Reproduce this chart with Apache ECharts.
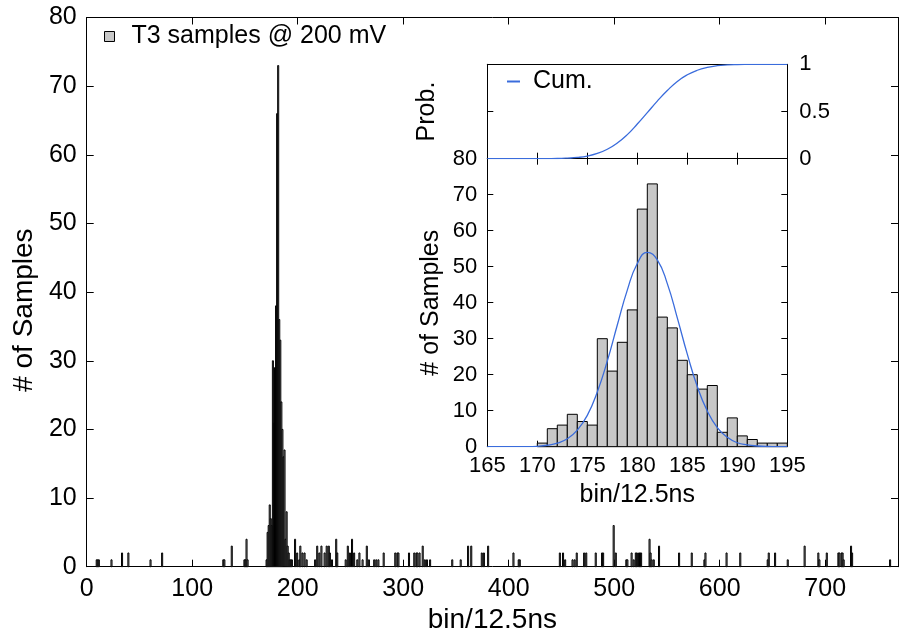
<!DOCTYPE html>
<html>
<head>
<meta charset="utf-8">
<script src="https://cdn.jsdelivr.net/npm/echarts@6/dist/echarts.min.js"></script>
<style>
  html, body { margin: 0; padding: 0; background: #fff; }
  #chart { width: 903px; height: 633px; }
</style>
</head>
<body>
<div id="chart"></div>
<script>
// main histogram: bins outside the peak (bin, count)
const sideBins = [9, 10, 11, 23, 33, 39, 60, 71, 129, 130, 137, 149, 150, 151, 152,
  197, 199, 201, 202, 204, 206, 208, 216, 218, 220, 222, 225, 227, 229, 230, 232, 236, 237,
  245, 247, 249, 251, 253, 256, 258, 261, 265, 267, 272, 274, 276, 281, 292, 294, 295,
  305, 310, 312, 313, 315, 318, 320, 322, 325, 346, 354, 361, 364, 374, 376, 380,
  404, 409, 410, 448, 451, 453, 460, 462, 464, 471, 473, 482, 488, 489, 499, 501,
  511, 512, 516, 518, 520, 521, 523, 524, 525, 533, 534, 535, 537, 542,
  561, 573, 585, 586, 606, 619, 645, 646, 652, 664, 680, 693, 694, 701,
  712, 713, 715, 716, 717, 724, 725, 761];
const sideCounts = [1, 1, 1, 1, 2, 2, 1, 2, 1, 1, 3, 1, 1, 4, 1,
  4, 2, 1, 3, 2, 2, 1, 1, 3, 2, 3, 2, 3, 3, 2, 1, 4, 2,
  1, 3, 2, 4, 2, 1, 2, 1, 3, 1, 1, 1, 1, 2, 2, 2, 2,
  2, 2, 2, 2, 2, 3, 1, 1, 1, 1, 1, 3, 3, 2, 2, 3,
  2, 1, 1, 2, 2, 1, 1, 1, 2, 2, 2, 2, 2, 2, 6, 2,
  1, 1, 2, 1, 2, 2, 2, 2, 2, 4, 2, 1, 1, 3,
  2, 2, 1, 2, 2, 2, 1, 2, 2, 1, 3, 2, 1, 2,
  2, 2, 2, 2, 1, 3, 2, 1];

// peak region (same bins shown in the inset)
const peakBins = [170, 171, 172, 173, 174, 175, 176, 177, 178, 179, 180, 181, 182,
  183, 184, 185, 186, 187, 188, 189, 190, 191, 192, 193, 194];
const peakCounts = [1, 5, 6, 9, 7, 6, 30, 21, 29, 38, 66, 73, 36,
  33, 24, 20, 16, 17, 4, 8, 3, 2, 1, 1, 1];

// fitted curve and cumulative curve
const fitX = [165, 166, 167, 168, 169, 170, 171, 172, 173, 174, 175, 176, 177, 178, 179, 180,
  181, 182, 183, 184, 185, 186, 187, 188, 189, 190, 191, 192, 193, 194, 195];
const fitY = [0, 0, 0, 0, 0, 0.1, 0.4, 1.0, 2.2, 4.6, 8.7, 15.2, 23.8, 33.8, 43.5, 50.9,
  54.0, 51.9, 45.3, 35.8, 25.7, 16.7, 9.9, 5.3, 2.6, 1.1, 0.5, 0.2, 0.05, 0, 0];
const cumY = [0, 0, 0, 0, 0, 0, 0.001, 0.002, 0.006, 0.013, 0.028, 0.056, 0.100, 0.166, 0.255, 0.367,
  0.488, 0.610, 0.722, 0.819, 0.889, 0.937, 0.967, 0.985, 0.993, 0.997, 0.999, 1, 1, 1, 1];

const mainTicks = [0, 100, 200, 300, 400, 500, 600, 700];
const insetTicks = [165, 170, 175, 180, 185, 190, 195];

const font = "'Liberation Sans', Arial, sans-serif";
const blue = '#3a6cdc';

const mainData = sideBins.map((b, i) => [b, sideCounts[i]])
  .concat(peakBins.map((b, i) => [b, peakCounts[i]]));
const insetData = peakBins.map((b, i) => [b, peakCounts[i]]);

function renderBin(params, api) {
  const x0 = api.value(0);
  const c = api.value(1);
  const p0 = api.coord([x0, 0]);
  const p1 = api.coord([x0 + 1, c]);
  return {
    type: 'rect',
    shape: { x: p0[0], y: p1[1], width: p1[0] - p0[0], height: p0[1] - p1[1] },
    style: { fill: '#c8c8c8', stroke: '#000', lineWidth: 1 }
  };
}

function frameAxis(extra) {
  return Object.assign({
    type: 'value',
    axisLine: { show: true, onZero: false, lineStyle: { color: '#000', width: 1 } },
    axisTick: { show: true, inside: true, length: 7, lineStyle: { color: '#000' } },
    axisLabel: { show: false },
    splitLine: { show: false }
  }, extra);
}

const labelStyle = (size) => ({ color: '#000', fontFamily: font, fontSize: size });
const insetTick = { show: true, inside: true, length: 6, lineStyle: { color: '#000' } };

const chart = echarts.init(document.getElementById('chart'));

chart.setOption({
  backgroundColor: '#fff',
  animation: false,
  textStyle: { fontFamily: font },
  legend: [
    {
      left: 104, top: 24, padding: 0,
      itemWidth: 10, itemHeight: 10,
      selectedMode: false,
      data: [{ name: 'T3 samples @ 200 mV', icon: 'rect',
        itemStyle: { color: '#c8c8c8', borderColor: '#000', borderWidth: 1 } }],
      textStyle: { color: '#000', fontFamily: font, fontSize: 25, padding: [0, 0, 0, 12] }
    },
    {
      left: 506, top: 69, padding: 0,
      itemWidth: 13, itemHeight: 12,
      selectedMode: false,
      itemStyle: { opacity: 0 },
      data: ['Cum.'],
      textStyle: { color: '#000', fontFamily: font, fontSize: 25, padding: [0, 0, 0, 8] }
    }
  ],
  grid: [
    { left: 86.7, top: 17.5, width: 811.3, height: 549.2,
      containLabel: false, outerBoundsMode: 'none' },
    { left: 487.3, top: 158.7, width: 300, height: 288, show: true, backgroundColor: '#fff', borderWidth: 0,
      containLabel: false, outerBoundsMode: 'none' },
    { left: 487.3, top: 64.3, width: 300, height: 94.4, show: true, backgroundColor: '#fff', borderWidth: 0,
      containLabel: false, outerBoundsMode: 'none' }
  ],
  xAxis: [
    frameAxis({
      gridIndex: 0, position: 'bottom', min: 0, max: 769, interval: 100,
      axisLabel: Object.assign({ show: true, margin: 10, showMaxLabel: false,
        formatter: v => mainTicks.indexOf(v) >= 0 ? String(v) : '' }, labelStyle(25)),
      name: 'bin/12.5ns', nameLocation: 'middle', nameGap: 37,
      nameTextStyle: labelStyle(28)
    }),
    frameAxis({ gridIndex: 0, position: 'top', min: 0, max: 769, interval: 100 }),
    frameAxis({
      gridIndex: 1, position: 'bottom', min: 165, max: 195, interval: 5,
      axisTick: insetTick,
      axisLabel: Object.assign({ show: true, margin: 8,
        formatter: v => insetTicks.indexOf(v) >= 0 ? String(v) : '' }, labelStyle(22)),
      name: 'bin/12.5ns', nameLocation: 'middle', nameGap: 36,
      nameTextStyle: labelStyle(25)
    }),
    frameAxis({ gridIndex: 1, position: 'top', min: 165, max: 195, interval: 5, axisTick: insetTick }),
    frameAxis({ gridIndex: 2, position: 'bottom', min: 165, max: 195, interval: 5, axisTick: insetTick }),
    frameAxis({ gridIndex: 2, position: 'top', min: 165, max: 195, interval: 5,
      axisTick: { show: false } })
  ],
  yAxis: [
    frameAxis({
      gridIndex: 0, position: 'left', min: 0, max: 80, interval: 10,
      axisLabel: Object.assign({ show: true, margin: 10 }, labelStyle(25)),
      name: '# of Samples', nameLocation: 'middle', nameGap: 44,
      nameTextStyle: Object.assign({ padding: [0, 36, 0, 0] }, labelStyle(28))
    }),
    frameAxis({ gridIndex: 0, position: 'right', min: 0, max: 80, interval: 10 }),
    frameAxis({
      gridIndex: 1, position: 'left', min: 0, max: 80, interval: 10,
      axisTick: insetTick,
      axisLabel: Object.assign({ show: true, margin: 10 }, labelStyle(22)),
      name: '# of Samples', nameLocation: 'middle', nameGap: 44,
      nameTextStyle: labelStyle(25)
    }),
    frameAxis({ gridIndex: 1, position: 'right', min: 0, max: 80, interval: 10, axisTick: insetTick }),
    frameAxis({
      gridIndex: 2, position: 'left', min: 0, max: 1, interval: 0.5,
      axisTick: insetTick,
      name: 'Prob.', nameLocation: 'middle', nameGap: 48,
      nameTextStyle: labelStyle(25)
    }),
    frameAxis({
      gridIndex: 2, position: 'right', min: 0, max: 1, interval: 0.5,
      axisTick: insetTick,
      axisLabel: Object.assign({ show: true, margin: 12 }, labelStyle(22))
    })
  ],
  series: [
    {
      name: 'T3 samples @ 200 mV', type: 'custom',
      xAxisIndex: 0, yAxisIndex: 0,
      itemStyle: { color: '#c8c8c8', borderColor: '#000', borderWidth: 1 },
      encode: { x: 0, y: 1 },
      renderItem: renderBin,
      data: mainData
    },
    {
      name: 'inset', type: 'custom',
      xAxisIndex: 2, yAxisIndex: 2,
      itemStyle: { color: '#c8c8c8', borderColor: '#000', borderWidth: 1 },
      encode: { x: 0, y: 1 },
      renderItem: renderBin,
      data: insetData
    },
    {
      name: 'fit', type: 'line',
      xAxisIndex: 2, yAxisIndex: 2,
      smooth: true, symbol: 'none',
      lineStyle: { color: blue, width: 1.3 },
      data: fitX.map((x, i) => [x, fitY[i]])
    },
    {
      name: 'Cum.', type: 'line',
      xAxisIndex: 4, yAxisIndex: 4,
      smooth: true, symbol: 'none',
      itemStyle: { color: blue },
      lineStyle: { color: blue, width: 1.3 },
      data: fitX.map((x, i) => [x, cumY[i]])
    }
  ]
});
</script>
</body>
</html>
